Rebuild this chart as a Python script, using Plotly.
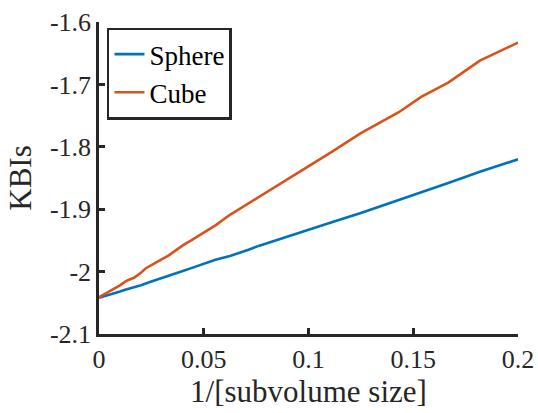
import plotly.graph_objects as go

# inverse subvolume size (1/L) sampled for each curve
inv_size = [0.2, 0.1818, 0.1667, 0.1538, 0.1429, 0.1333, 0.125, 0.1111, 0.1,
            0.0909, 0.0833, 0.0769, 0.0714, 0.0625, 0.0556, 0.05, 0.0444, 0.04,
            0.0333, 0.0286, 0.025, 0.0222, 0.02, 0.0167, 0.0143, 0.0125, 0.01,
            0.0067, 0.005, 0.0025, 0.0]

kbi_sphere = [-1.820, -1.840, -1.858, -1.873, -1.885, -1.896, -1.906, -1.921, -1.933,
              -1.942, -1.950, -1.958, -1.965, -1.975, -1.981, -1.988, -1.994, -1.999,
              -2.006, -2.012, -2.016, -2.020, -2.022, -2.025, -2.027, -2.029, -2.032,
              -2.035, -2.037, -2.039, -2.042]

kbi_cube = [-1.633, -1.662, -1.697, -1.720, -1.745, -1.763, -1.778, -1.808, -1.831,
            -1.850, -1.866, -1.879, -1.891, -1.909, -1.926, -1.938, -1.949, -1.958,
            -1.974, -1.983, -1.990, -1.995, -2.002, -2.010, -2.013, -2.016, -2.022,
            -2.028, -2.031, -2.036, -2.041]

x_ticks = [0, 0.05, 0.1, 0.15, 0.2]
x_ticklabels = ["0", "0.05", "0.1", "0.15", "0.2"]
y_ticks = [-2.1, -2.0, -1.9, -1.8, -1.7, -1.6]
y_ticklabels = ["-2.1", "-2", "-1.9", "-1.8", "-1.7", "-1.6"]

FONT = "Liberation Serif"
AXIS_COLOR = "#262626"

fig = go.Figure()
fig.add_trace(go.Scatter(x=inv_size, y=kbi_sphere, mode="lines", name="Sphere",
                         line=dict(color="#0072BD", width=2.6)))
fig.add_trace(go.Scatter(x=inv_size, y=kbi_cube, mode="lines", name="Cube",
                         line=dict(color="#D95319", width=2.6)))

axis_common = dict(
    showline=True, linecolor=AXIS_COLOR, linewidth=2.5,
    ticks="inside", ticklen=6, tickwidth=2.5, tickcolor=AXIS_COLOR,
    showgrid=False, zeroline=False, mirror=False, automargin=False,
    tickfont=dict(family=FONT, size=26, color=AXIS_COLOR),
)

fig.update_layout(
    width=538, height=413,
    margin=dict(l=99, r=20, t=22, b=79, autoexpand=False),
    paper_bgcolor="white", plot_bgcolor="white",
    showlegend=True,
    legend=dict(
        x=0.019, y=0.982, xanchor="left", yanchor="top",
        bgcolor="white", bordercolor=AXIS_COLOR, borderwidth=2.5,
        font=dict(family=FONT, size=27, color="#000000"),
        itemwidth=30, tracegroupgap=0,
    ),
    xaxis=dict(range=[0, 0.2], tickvals=x_ticks, ticktext=x_ticklabels,
               title=dict(text="1/[subvolume size]", standoff=8,
                          font=dict(family=FONT, size=31, color=AXIS_COLOR)),
               **axis_common),
    yaxis=dict(range=[-2.1, -1.6], tickvals=y_ticks, ticktext=y_ticklabels,
               title=dict(text="KBIs", standoff=10,
                          font=dict(family=FONT, size=31, color=AXIS_COLOR)),
               **axis_common),
)

fig.write_html("out.html")
